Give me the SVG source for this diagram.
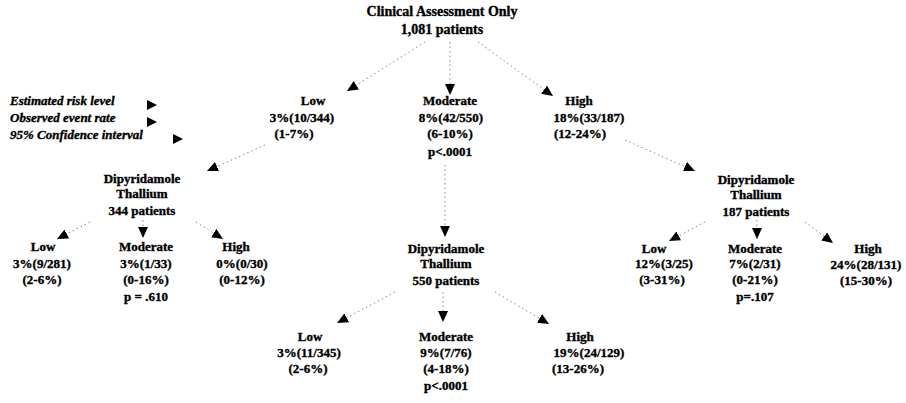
<svg xmlns="http://www.w3.org/2000/svg" width="906" height="403" viewBox="0 0 906 403">
<defs>
<style>
text{font-family:"Liberation Serif","Times New Roman",serif;font-weight:bold;font-size:13px;fill:#000;stroke:#000;stroke-width:0.35;text-anchor:middle}
.t{font-size:14px}
.lg{font-style:italic;text-anchor:start}
.c line{stroke:#888;stroke-width:1;stroke-dasharray:1.5 3;marker-end:url(#ah)}
</style>
<marker id="ah" markerUnits="userSpaceOnUse" markerWidth="12" markerHeight="10" refX="11" refY="5" orient="auto">
<path d="M0,0 L11,5 L0,10 Z" fill="#000"/>
</marker>
</defs>
<rect width="906" height="403" fill="#fff"/>

<g id="root">
<text class="t" x="442" y="16">Clinical Assessment Only</text>
<text class="t" x="442" y="34">1,081 patients</text>
</g>

<g id="legend">
<text class="lg" x="10" y="105">Estimated risk level</text>
<text class="lg" x="10" y="122">Observed event rate</text>
<text class="lg" x="10" y="139">95% Confidence interval</text>
<polygon points="147,100 157,105 147,110" fill="#000"/>
<polygon points="147,117 157,122 147,127" fill="#000"/>
<polygon points="173,134 183,139 173,144" fill="#000"/>
</g>

<g id="l1-low">
<text x="313" y="105">Low</text>
<text x="302" y="122">3%(10/344)</text>
<text x="294" y="138">(1-7%)</text>
</g>
<g id="l1-mod">
<text x="450" y="105">Moderate</text>
<text x="451" y="122">8%(42/550)</text>
<text x="450" y="138">(6-10%)</text>
<text x="450" y="156">p&lt;.0001</text>
</g>
<g id="l1-high">
<text x="579" y="105">High</text>
<text x="589" y="122">18%(33/187)</text>
<text x="580" y="138">(12-24%)</text>
</g>

<g id="dip-left">
<text x="142" y="183">Dipyridamole</text>
<text x="142" y="198">Thallium</text>
<text x="142" y="215">344 patients</text>
</g>
<g id="left-low">
<text x="43" y="251">Low</text>
<text x="42" y="268">3%(9/281)</text>
<text x="42" y="284">(2-6%)</text>
</g>
<g id="left-mod">
<text x="146" y="251">Moderate</text>
<text x="146" y="268">3%(1/33)</text>
<text x="146" y="284">(0-16%)</text>
<text x="146" y="301">p = .610</text>
</g>
<g id="left-high">
<text x="236" y="251">High</text>
<text x="242" y="268">0%(0/30)</text>
<text x="242" y="284">(0-12%)</text>
</g>

<g id="dip-mid">
<text x="446" y="253">Dipyridamole</text>
<text x="446" y="268">Thallium</text>
<text x="446" y="285">550 patients</text>
</g>
<g id="mid-low">
<text x="310" y="341">Low</text>
<text x="309" y="357">3%(11/345)</text>
<text x="308" y="373">(2-6%)</text>
</g>
<g id="mid-mod">
<text x="446" y="341">Moderate</text>
<text x="446" y="357">9%(7/76)</text>
<text x="446" y="373">(4-18%)</text>
<text x="446" y="390">p&lt;.0001</text>
</g>
<g id="mid-high">
<text x="580" y="341">High</text>
<text x="589" y="357">19%(24/129)</text>
<text x="578" y="373">(13-26%)</text>
</g>

<g id="dip-right">
<text x="756" y="184">Dipyridamole</text>
<text x="756" y="199">Thallium</text>
<text x="756" y="216">187 patients</text>
</g>
<g id="right-low">
<text x="654" y="253">Low</text>
<text x="664" y="268">12%(3/25)</text>
<text x="662" y="284">(3-31%)</text>
</g>
<g id="right-mod">
<text x="755" y="253">Moderate</text>
<text x="755" y="268">7%(2/31)</text>
<text x="755" y="284">(0-21%)</text>
<text x="755" y="301">p=.107</text>
</g>
<g id="right-high">
<text x="868" y="253">High</text>
<text x="866" y="269">24%(28/131)</text>
<text x="866" y="285">(15-30%)</text>
</g>

<g id="connectors" class="c">
<line x1="425" y1="42" x2="347" y2="91"/>
<line x1="450" y1="42" x2="450" y2="95"/>
<line x1="478" y1="42" x2="553" y2="96"/>
<line x1="265" y1="145" x2="207" y2="171"/>
<line x1="90" y1="222" x2="57" y2="239"/>
<line x1="143" y1="220" x2="143" y2="238"/>
<line x1="196" y1="222" x2="223" y2="239"/>
<line x1="445" y1="165" x2="445" y2="237"/>
<line x1="395" y1="292" x2="337" y2="323"/>
<line x1="443" y1="292" x2="443" y2="322"/>
<line x1="495" y1="292" x2="549" y2="324"/>
<line x1="625" y1="140" x2="695" y2="171"/>
<line x1="705" y1="222" x2="669" y2="241"/>
<line x1="757" y1="220" x2="757" y2="239"/>
<line x1="805" y1="222" x2="833" y2="243"/>
</g>
</svg>
